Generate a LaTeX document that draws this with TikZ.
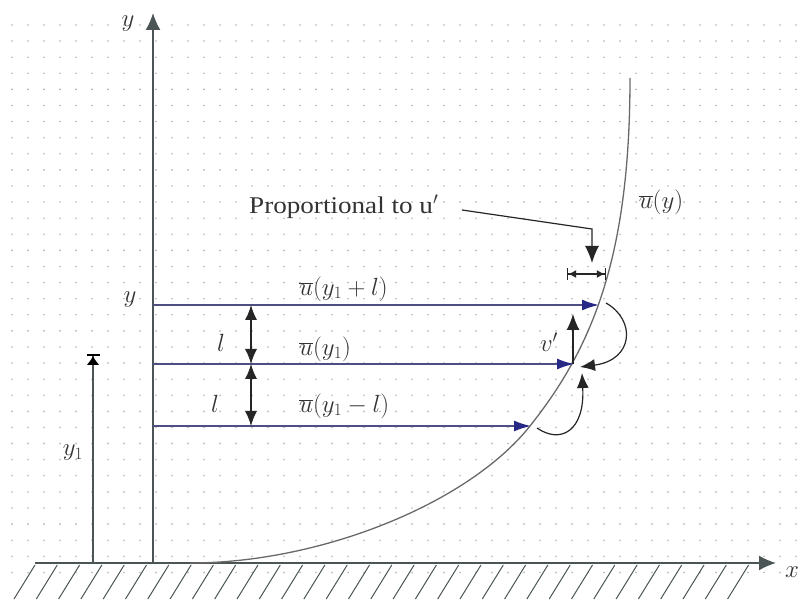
\documentclass[tikz,border=0pt]{standalone}
\usepackage{fontspec}
\setmainfont{Liberation Serif}
\usetikzlibrary{arrows.meta}
\definecolor{dotgray}{RGB}{180,180,180}
\definecolor{axisgray}{RGB}{75,85,85}
\definecolor{curvegray}{RGB}{105,105,105}
\definecolor{lineblue}{RGB}{78,78,130}
\definecolor{tipblue}{RGB}{40,40,135}
\begin{document}
\begin{tikzpicture}[x=1pt,y=-1pt,
  axis/.style={draw=axisgray,line width=1.8pt},
  hatch/.style={draw=axisgray,line width=1pt},
  profile/.style={draw=curvegray,line width=1.3pt},
  flow/.style={draw=lineblue,line width=1.6pt,-{Latex[length=17pt,width=11pt,color=tipblue]}},
  blk/.style={draw=black!85,line width=1.2pt},
  blkarrow/.style={blk,-{Latex[length=15pt,width=12pt]}},
  dbl/.style={blk,{Latex[length=15pt,width=12pt]}-{Latex[length=15pt,width=12pt]}},
  lbl/.style={font=\fontsize{24}{28}\selectfont,inner sep=0pt,text=black!80},
  every node/.style={lbl}]
\useasboundingbox (0,0) rectangle (798,601);
\fill[white] (0,0) rectangle (798,601);
% dot grid
\foreach \i in {0,...,49}{\foreach \j in {0,...,34}{\fill[dotgray] (12+16*\i,25+16.1*\j) circle (0.9pt);}}
% hatching
\foreach \k in {0,...,32}{\draw[hatch] (35+22.3*\k,565) -- ++(-21,34);}
% axes
\coordinate (O) at (153,563);
\coordinate (Ytop) at (153,13);
\coordinate (Gl) at (35,563);
\coordinate (Xend) at (776,563);
\draw[axis,-{Latex[length=17pt,width=15pt]}] (Gl) -- (Xend);
\draw[axis,-{Latex[length=17pt,width=15pt]}] (O) -- (Ytop);
\node (xlab) at (792,572) {$x$};
\node (ylab) at (128,24) {$y$};
% profile
\coordinate (S0) at (190,563);
\coordinate (S1) at (530,426);
\coordinate (S2) at (630,78);
\draw[profile] (S0) .. controls (320,563) and (468,504) .. (S1) .. controls (592,348) and (630,258) .. (S2);
\node (uy) at (661,202) {$\overline{u}(y)$};
% flow lines
\coordinate (A1) at (153,305); \coordinate (B1) at (599,305);
\coordinate (A2) at (153,364); \coordinate (B2) at (574,364);
\coordinate (A3) at (153,426); \coordinate (B3) at (531,426);
\draw[flow] (A1) -- (B1);
\draw[flow] (A2) -- (B2);
\draw[flow] (A3) -- (B3);
\node[anchor=west] (u1) at (299,289) {$\overline{u}(y_1+l)$};
\node[anchor=west] (u2) at (299,349) {$\overline{u}(y_1)$};
\node[anchor=west] (u3) at (299,406) {$\overline{u}(y_1-l)$};
\node (yl) at (130,300) {$y$};
% l arrows
\coordinate (C1) at (251,305); \coordinate (C2) at (251,364); \coordinate (C3) at (251,426);
\draw[dbl] (C1) -- (C2);
\draw[dbl] (C2) -- (C3);
\node (l1) at (221,343) {$l$};
\node (l2) at (215,404) {$l$};
% y1 arrow
\coordinate (D0) at (93,563); \coordinate (D1) at (93,354);
\draw[axis,line width=1.5pt,-{Latex[length=9pt,width=13pt,color=black]Bar[width=13pt,line width=2pt,color=black]}] (D0) -- (D1);
\node (y1) at (73,453) {$y_1$};
% proportional to u'
\node[anchor=west,font=\fontsize{24}{28}\selectfont\addfontfeature{FakeStretch=1.13}] (prop) at (249,207) {Proportional to u$'$};
\coordinate (P1) at (462,210); \coordinate (P2) at (592,229); \coordinate (P3) at (592,263);
\draw[blk,-{Latex[length=17pt,width=14pt]}] (P1) -- (P2) -- (P3);
\coordinate (E1) at (567,274); \coordinate (E2) at (606,274);
\draw[blk,{Bar[width=12pt]Latex[length=8pt,width=8pt]}-{Latex[length=8pt,width=8pt]Bar[width=12pt]}] (E1) -- (E2);
% v' arrow
\coordinate (V0) at (573,364); \coordinate (V1) at (573,314);
\draw[blk,-{Latex[length=16pt,width=13pt]}] (V0) -- (V1);
\node (vp) at (549,342) {$v'$};
% curved arrows
\coordinate (F1) at (606,303); \coordinate (F2) at (580,367);
\draw[blkarrow] (F1) .. controls (636,320) and (634,360) .. (F2);
\coordinate (G1) at (537,428); \coordinate (G2) at (582,373);
\draw[blkarrow] (G1) .. controls (560,444) and (585,432) .. (G2);
\end{tikzpicture}
\end{document}
